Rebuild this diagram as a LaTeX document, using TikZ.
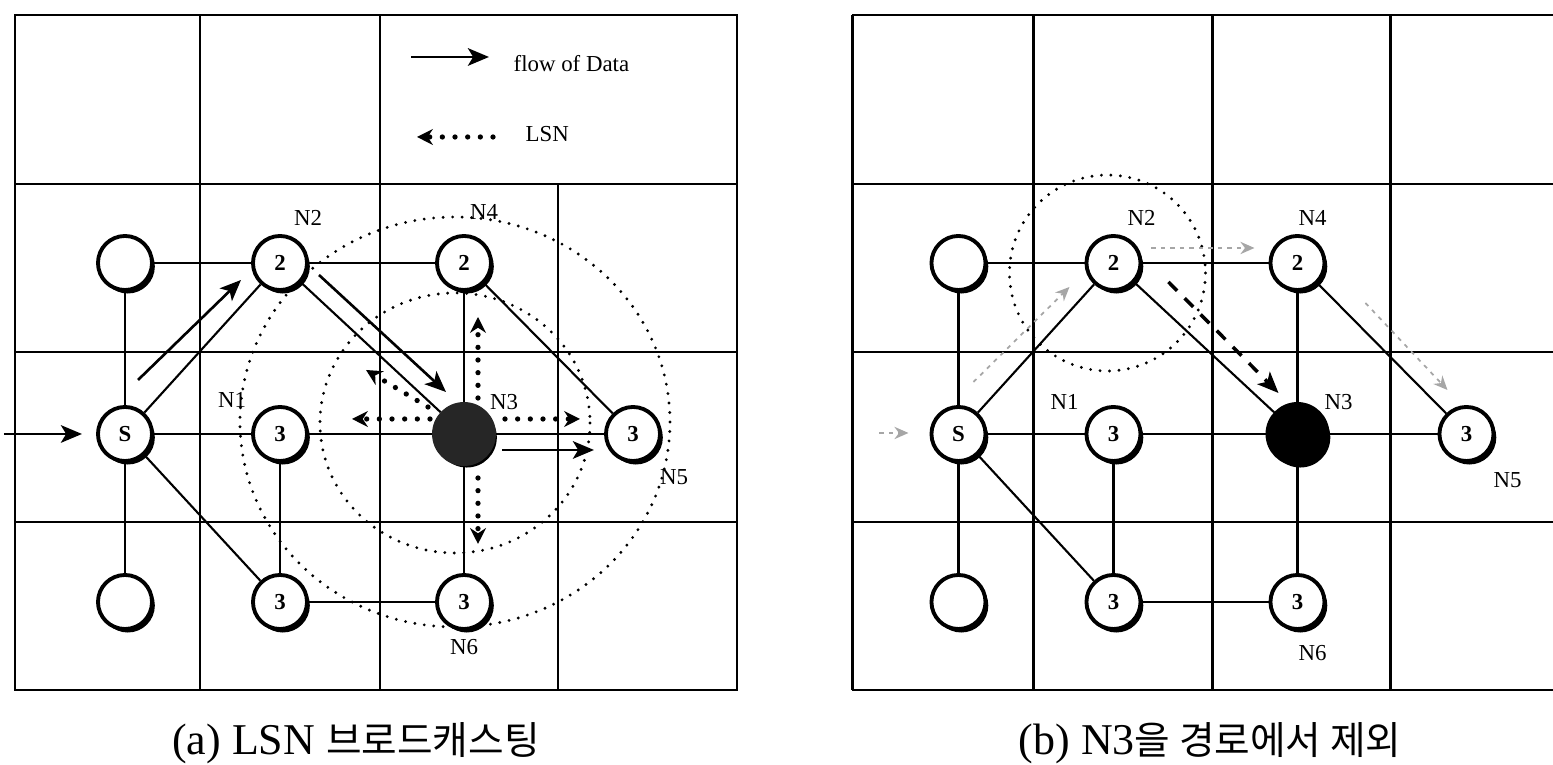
\documentclass[tikz,border=0pt]{standalone}
\usepackage{fontspec}
\setmainfont{Liberation Serif}
\newfontfamily\krfont{Noto Sans CJK KR}
\usetikzlibrary{arrows.meta, shadows}

\begin{document}
\begin{tikzpicture}[
        x=0.01cm, y=-0.01cm,
        every node/.style={font=\fontsize{6.5}{7}\selectfont},
        cell/.style={line width=0.8pt},
        nd/.style={circle, draw, line width=1.1pt, fill=white, minimum size=0.54cm, inner sep=0pt, font=\bfseries\fontsize{6.5}{7}\selectfont,
            drop shadow={shadow xshift=0.8pt, shadow yshift=-1pt, opacity=1, fill=black}},
        hole/.style={nd, fill=black!85, draw=black!85, minimum size=0.6cm},
        link/.style={line width=0.6pt},
        flow/.style={-{Stealth[length=6pt, width=5pt, inset=1.5pt]}, line width=0.75pt},
        lsn/.style={-{Stealth[length=4.5pt, width=4.5pt]}, line width=1.5pt, line cap=round, dash pattern=on 0pt off 3.6pt},
        ring/.style={line width=0.9pt, line cap=round, dash pattern=on 0pt off 2.7pt},
        ghost/.style={-{Stealth[length=4pt, width=3.5pt]}, draw=black!35, line width=0.5pt, dash pattern=on 1.2pt off 1.5pt},
        detour/.style={-{Stealth[length=6pt, width=5pt, inset=1.5pt]}, line width=1pt, dash pattern=on 3.5pt off 3pt},
        lbl/.style={inner sep=0pt}
    ]
    \useasboundingbox (0,0) rectangle (1553,765);

    % ---- (a) LSN broadcasting ----
    \draw[cell] (15,15) rectangle (737,690);
    \draw[cell] (15,184) -- (737,184);
    \draw[cell] (15,352) -- (737,352);
    \draw[cell] (15,522) -- (737,522);
    \draw[cell] (200,15) -- (200,690);
    \draw[cell] (380,15) -- (380,690);
    \draw[cell] (558,184) -- (558,690);

    % legend
    \coordinate (legF1) at (411,57);
    \coordinate (legF2) at (489,57);
    \coordinate (legL1) at (493,137);
    \coordinate (legL2) at (417,137);
    \draw[flow] (legF1) -- (legF2);
    \draw[lsn] (legL1) -- (legL2);
    \node[lbl, anchor=west] (legFtxt) at (513,64) {flow of Data};
    \node[lbl, anchor=west] (legLtxt) at (525,134) {LSN};

    % broadcast ranges
    \draw[ring] (455,423) ellipse [x radius=135, y radius=130];
    \draw[ring] (455,422) ellipse [x radius=215, y radius=205];

    \node[nd] (a0) at (125,263) {};
    \node[nd] (aN2) at (280,263) {2};
    \node[nd] (aN4) at (464,263) {2};
    \node[nd] (aS) at (125,434) {S};
    \node[nd] (aN1) at (280,434) {3};
    \node[hole] (aN3) at (464,434) {};
    \node[nd] (aN5) at (633,434) {3};
    \node[nd] (a7) at (125,602) {};
    \node[nd] (a8) at (280,602) {3};
    \node[nd] (aN6) at (464,602) {3};

    \draw[link] (a0) -- (aN2);
    \draw[link] (aN2) -- (aN4);
    \draw[link] (a0) -- (aS);
    \draw[link] (aS) -- (a7);
    \draw[link] (aS) -- (aN2);
    \draw[link] (aS) -- (aN1);
    \draw[link] (aS) -- (a8);
    \draw[link] (aN1) -- (a8);
    \draw[link] (aN1) -- (aN3);
    \draw[link] (aN3) -- (aN5);
    \draw[link] (aN2) -- (aN3);
    \draw[link] (aN4) -- (aN3);
    \draw[link] (aN4) -- (aN5);
    \draw[link] (aN3) -- (aN6);
    \draw[link] (a8) -- (aN6);

    \node[lbl] (laN2) at (308,218) {N2};
    \node[lbl] (laN4) at (484,212) {N4};
    \node[lbl] (laN1) at (232,400) {N1};
    \node[lbl] (laN3) at (504,402) {N3};
    \node[lbl] (laN5) at (674,477) {N5};
    \node[lbl] (laN6) at (464,647) {N6};

    % data flow
    \coordinate (aIn) at (4,434);
    \coordinate (aF1) at (138,380);
    \coordinate (aF2) at (241,280);
    \coordinate (aF3) at (319,275);
    \coordinate (aF4) at (446,392);
    \coordinate (aF5) at (502,450);
    \coordinate (aF6) at (594,450);
    \draw[flow, shorten >=4pt] (aIn) -- (aS);
    \draw[flow] (aF1) -- (aF2);
    \draw[flow] (aF3) -- (aF4);
    \draw[flow] (aF5) -- (aF6);

    % LSN from N3
    \coordinate (aU1) at (478,398);
    \coordinate (aU2) at (478,317);
    \coordinate (aL1) at (430,419);
    \coordinate (aL2) at (352,419);
    \coordinate (aR1) at (505,419);
    \coordinate (aR2) at (580,419);
    \coordinate (aD1) at (478,478);
    \coordinate (aD2) at (478,544);
    \coordinate (aG1) at (428,407);
    \coordinate (aG2) at (366,370);
    \draw[lsn] (aU1) -- (aU2);
    \draw[lsn] (aL1) -- (aL2);
    \draw[lsn] (aR1) -- (aR2);
    \draw[lsn] (aD1) -- (aD2);
    \draw[lsn] (aG1) -- (aG2);

    \node (capA) at (356,743) {\fontsize{12.5}{15}\selectfont (a) LSN {\krfont\fontsize{11}{15}\selectfont 브로드캐스팅}};

    % ---- (b) N3 removed from route ----
    \begin{scope}[xshift=8.33cm]
    \draw[cell] (19,15) -- (720,15);
    \draw[cell] (19,184) -- (720,184);
    \draw[cell] (19,352) -- (720,352);
    \draw[cell] (19,522) -- (720,522);
    \draw[cell] (19,690) -- (720,690);
    \draw[cell] (19,15) -- (19,690);
    \draw[cell] (200,15) -- (200,690);
    \draw[cell] (379,15) -- (379,690);
    \draw[cell] (557,15) -- (557,690);

    \draw[ring] (274,273) circle [radius=98];

    \node[nd] (b0) at (125,263) {};
    \node[nd] (bN2) at (280,263) {2};
    \node[nd] (bN4) at (464,263) {2};
    \node[nd] (bS) at (125,434) {S};
    \node[nd] (bN1) at (280,434) {3};
    \node[hole, fill=black, draw=black] (bN3) at (464,434) {};
    \node[nd] (bN5) at (633,434) {3};
    \node[nd] (b7) at (125,602) {};
    \node[nd] (b8) at (280,602) {3};
    \node[nd] (bN6) at (464,602) {3};

    \draw[link] (b0) -- (bN2);
    \draw[link] (bN2) -- (bN4);
    \draw[link] (b0) -- (bS);
    \draw[link] (bS) -- (b7);
    \draw[link] (bS) -- (bN2);
    \draw[link] (bS) -- (bN1);
    \draw[link] (bS) -- (b8);
    \draw[link] (bN1) -- (b8);
    \draw[link] (bN1) -- (bN3);
    \draw[link] (bN3) -- (bN5);
    \draw[link] (bN2) -- (bN3);
    \draw[link] (bN4) -- (bN3);
    \draw[link] (bN4) -- (bN5);
    \draw[link] (bN3) -- (bN6);
    \draw[link] (b8) -- (bN6);

    \node[lbl] (lbN2) at (308,218) {N2};
    \node[lbl] (lbN4) at (479,218) {N4};
    \node[lbl] (lbN1) at (231,402) {N1};
    \node[lbl] (lbN3) at (505,402) {N3};
    \node[lbl] (lbN5) at (674,480) {N5};
    \node[lbl] (lbN6) at (479,653) {N6};

    % new route
    \coordinate (bIn1) at (46,433);
    \coordinate (bIn2) at (75,433);
    \coordinate (bG1) at (140,382);
    \coordinate (bG2) at (236,287);
    \coordinate (bG3) at (318,248);
    \coordinate (bG4) at (421,248);
    \coordinate (bG5) at (532,303);
    \coordinate (bG6) at (614,390);
    \coordinate (bD1) at (335,282);
    \coordinate (bD2) at (445,393);
    \draw[ghost] (bIn1) -- (bIn2);
    \draw[ghost] (bG1) -- (bG2);
    \draw[ghost] (bG3) -- (bG4);
    \draw[ghost] (bG5) -- (bG6);
    \draw[detour] (bD1) -- (bD2);
    \end{scope}

    \node (capB) at (1210,743) {\fontsize{12.5}{15}\selectfont (b) N3{\krfont\fontsize{11}{15}\selectfont 을 경로에서 제외}};
\end{tikzpicture}
\end{document}
